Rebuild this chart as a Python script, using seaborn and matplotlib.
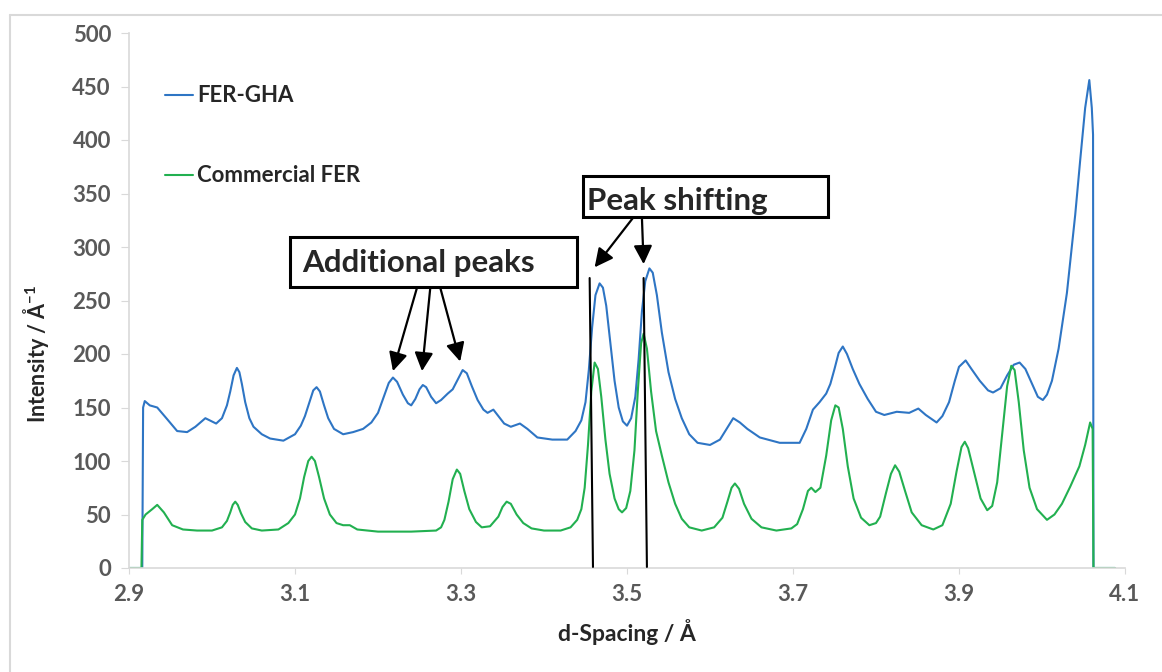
import numpy as np
import pandas as pd
import matplotlib
matplotlib.use('Agg')
import matplotlib.pyplot as plt
import seaborn as sns
from matplotlib.lines import Line2D
from matplotlib.patches import Rectangle

# values
gha_x = [2.900, 2.916, 2.917, 2.919, 2.925, 2.934, 2.945, 2.958, 2.970, 2.980,
         2.992, 3.005, 3.012, 3.018, 3.022, 3.026, 3.030, 3.033, 3.036, 3.040,
         3.045, 3.050, 3.060, 3.070, 3.086, 3.100, 3.107, 3.112, 3.117, 3.122,
         3.126, 3.130, 3.135, 3.140, 3.147, 3.158, 3.170, 3.182, 3.192, 3.200,
         3.207, 3.213, 3.218, 3.223, 3.230, 3.236, 3.240, 3.245, 3.250, 3.254,
         3.258, 3.264, 3.270, 3.276, 3.284, 3.290, 3.296, 3.302, 3.307, 3.313,
         3.320, 3.327, 3.332, 3.339, 3.345, 3.352, 3.360, 3.371, 3.380, 3.392,
         3.410, 3.428, 3.438, 3.445, 3.450, 3.454, 3.458, 3.462, 3.467, 3.471,
         3.475, 3.480, 3.485, 3.490, 3.495, 3.500, 3.505, 3.510, 3.514, 3.518,
         3.522, 3.527, 3.531, 3.536, 3.542, 3.550, 3.558, 3.566, 3.575, 3.585,
         3.600, 3.612, 3.620, 3.628, 3.636, 3.645, 3.660, 3.684, 3.708, 3.716,
         3.724, 3.732, 3.740, 3.745, 3.750, 3.755, 3.760, 3.765, 3.772, 3.780,
         3.790, 3.800, 3.810, 3.825, 3.840, 3.851, 3.860, 3.873, 3.880, 3.888,
         3.895, 3.900, 3.908, 3.915, 3.925, 3.935, 3.941, 3.950, 3.958, 3.966,
         3.973, 3.980, 3.988, 3.995, 4.001, 4.006, 4.012, 4.020, 4.030, 4.040,
         4.046, 4.052, 4.057, 4.060, 4.0615, 4.062, 4.088]
gha_y = [0, 0, 150, 156, 152, 150, 140, 128, 127, 132,
         140, 135, 140, 152, 165, 180, 187, 183, 172, 155,
         140, 132, 125, 121, 119, 125, 133, 142, 154, 166,
         169, 165, 152, 140, 130, 125, 127, 130, 136, 145,
         160, 173, 178, 174, 162, 154, 152, 158, 167, 171,
         169, 160, 154, 157, 163, 167, 176, 185, 182, 170,
         157, 148, 145, 148, 142, 135, 132, 135, 130, 122,
         120, 120, 128, 138, 155, 185, 225, 255, 266, 262,
         245, 210, 175, 150, 137, 133, 140, 160, 195, 240,
         268, 280, 276, 255, 220, 183, 158, 140, 125, 117,
         115, 120, 130, 140, 136, 130, 122, 117, 117, 130,
         148, 155, 163, 172, 186, 201, 207, 200, 186, 172,
         158, 146, 143, 146, 145, 149, 143, 136, 142, 155,
         175, 188, 194, 186, 175, 166, 164, 168, 180, 190,
         192, 186, 172, 160, 157, 162, 175, 205, 257, 330,
         381, 430, 456, 430, 405, 0, 0]

com_x = [2.900, 2.915, 2.916, 2.920, 2.928, 2.934, 2.942, 2.952, 2.965, 2.982,
         3.000, 3.012, 3.018, 3.022, 3.025, 3.028, 3.031, 3.035, 3.040, 3.048,
         3.060, 3.080, 3.092, 3.100, 3.106, 3.111, 3.116, 3.120, 3.124, 3.129,
         3.135, 3.142, 3.150, 3.158, 3.166, 3.175, 3.200, 3.240, 3.270, 3.276,
         3.280, 3.285, 3.290, 3.295, 3.299, 3.304, 3.310, 3.318, 3.325, 3.335,
         3.345, 3.350, 3.355, 3.360, 3.367, 3.375, 3.385, 3.400, 3.420, 3.432,
         3.440, 3.445, 3.449, 3.453, 3.457, 3.461, 3.465, 3.469, 3.474, 3.479,
         3.485, 3.490, 3.494, 3.499, 3.504, 3.509, 3.513, 3.517, 3.520, 3.524,
         3.529, 3.535, 3.542, 3.550, 3.558, 3.566, 3.575, 3.590, 3.605, 3.615,
         3.621, 3.626, 3.630, 3.635, 3.641, 3.650, 3.662, 3.680, 3.698, 3.705,
         3.712, 3.718, 3.722, 3.727, 3.733, 3.740, 3.746, 3.751, 3.755, 3.760,
         3.766, 3.773, 3.782, 3.792, 3.800, 3.805, 3.812, 3.818, 3.823, 3.828,
         3.835, 3.843, 3.855, 3.869, 3.880, 3.890, 3.897, 3.903, 3.907, 3.911,
         3.918, 3.926, 3.934, 3.940, 3.946, 3.952, 3.958, 3.963, 3.967, 3.972,
         3.978, 3.985, 3.994, 4.006, 4.015, 4.024, 4.034, 4.045, 4.052, 4.058,
         4.061, 4.062, 4.088]
com_y = [0, 0, 45, 50, 55, 59, 52, 40, 36, 35,
         35, 38, 44, 52, 59, 62, 59, 51, 43, 37,
         35, 36, 42, 50, 65, 85, 100, 104, 100, 85,
         65, 50, 42, 40, 40, 36, 34, 34, 35, 38,
         45, 62, 83, 92, 88, 72, 55, 43, 38, 39,
         48, 57, 62, 60, 50, 42, 37, 35, 35, 38,
         45, 55, 75, 115, 165, 192, 186, 160, 120, 88,
         65, 55, 52, 56, 72, 110, 165, 210, 219, 205,
         165, 128, 105, 80, 60, 46, 38, 35, 38, 47,
         62, 75, 79, 74, 60, 46, 38, 35, 37, 41,
         55, 72, 75, 71, 75, 105, 138, 152, 150, 130,
         95, 65, 47, 40, 42, 48, 70, 88, 96, 90,
         72, 52, 40, 36, 40, 60, 90, 113, 118, 112,
         90, 65, 54, 58, 80, 125, 170, 189, 185, 155,
         110, 75, 55, 45, 50, 60, 76, 95, 115, 136,
         130, 0, 0]

series_names = ['FER-GHA', 'Commercial FER']
colors = ['#2e75c4', '#22b050']

df = pd.concat([
    pd.DataFrame({'d': gha_x, 'I': gha_y, 'sample': series_names[0]}),
    pd.DataFrame({'d': com_x, 'I': com_y, 'sample': series_names[1]}),
], ignore_index=True)

sns.set_style('white')
plt.rcParams['font.family'] = ['Lato', 'DejaVu Sans']
plt.rcParams['mathtext.default'] = 'regular'

fig = plt.figure(figsize=(11.62, 6.72), dpi=100)
ax = fig.add_axes([129 / 1162, 104 / 672, 996 / 1162, 535 / 672])

sns.lineplot(data=df, x='d', y='I', hue='sample', hue_order=series_names,
             palette=colors, estimator=None, sort=False, linewidth=1.5,
             legend=False, ax=ax)

ax.set_xlim(2.9, 4.1)
ax.set_ylim(0, 500)
ax.set_xticks(np.arange(2.9, 4.11, 0.2))
ax.set_xticklabels(['2.9', '3.1', '3.3', '3.5', '3.7', '3.9', '4.1'])
ax.set_yticks(range(0, 501, 50))

grey = '#d9d9d9'
for s in ['top', 'right']:
    ax.spines[s].set_visible(False)
for s in ['left', 'bottom']:
    ax.spines[s].set_color(grey)
    ax.spines[s].set_linewidth(1.2)
ax.tick_params(axis='y', length=6, color=grey, pad=7, labelsize=16, labelcolor='#595959', left=True)
ax.tick_params(axis='x', length=4.5, color=grey, pad=7, labelsize=16, labelcolor='#595959', bottom=True)
for lbl in ax.get_xticklabels() + ax.get_yticklabels():
    lbl.set_fontweight('bold')

ax.set_xlabel('d-Spacing / Å', fontsize=16.5, fontweight='bold', labelpad=10)
ax.set_ylabel('Intensity / Å$^{-1}$', fontsize=15.5, fontweight='bold')
ax.yaxis.set_label_coords(-0.078, 0.40)

handles = [Line2D([], [], color=c, lw=1.5) for c in colors]
ax.legend(handles, series_names, loc='upper left', bbox_to_anchor=(0.036, 0.902),
          frameon=False, handlelength=1.25, handletextpad=0.2, labelspacing=2.65,
          borderpad=0, borderaxespad=0, prop={'size': 16, 'weight': 'bold'})

# annotation boxes
ax.add_patch(Rectangle((3.094, 262.6), 0.3458, 46.7, fc='white', ec='black', lw=2.2, zorder=5))
ax.text(3.1084, 276.6, 'Additional peaks', fontsize=22.5, fontweight='bold',
        ha='left', va='baseline', zorder=6)
ax.add_patch(Rectangle((3.447, 328.0), 0.2952, 38.4, fc='white', ec='black', lw=2.2, zorder=5))
ax.text(3.4518, 334.6, 'Peak shifting', fontsize=22.5, fontweight='bold',
        ha='left', va='baseline', zorder=6)

arr = dict(arrowstyle='-|>', color='black', lw=1.6, mutation_scale=28, shrinkA=0, shrinkB=0)
for start, tip in [((3.247, 262), (3.218, 184)),
                   ((3.263, 262), (3.253, 184)),
                   ((3.275, 262), (3.299, 193)),
                   ((3.507, 327), (3.461, 281)),
                   ((3.518, 327), (3.520, 284))]:
    ax.annotate('', xy=tip, xytext=start, arrowprops=arr)

seg = dict(arrowstyle='-', color='black', lw=1.5, shrinkA=0, shrinkB=0)
ax.annotate('', xy=(3.459, 1), xytext=(3.455, 271), arrowprops=seg)
ax.annotate('', xy=(3.524, 1), xytext=(3.520, 271), arrowprops=seg)

# thin frame of the original chart area
fig.add_artist(Line2D([10 / 1162, 10 / 1162], [0, 1 - 15 / 672], transform=fig.transFigure, color=grey, lw=1.5))
fig.add_artist(Line2D([10 / 1162, 1], [1 - 15 / 672, 1 - 15 / 672], transform=fig.transFigure, color=grey, lw=1.5))

fig.savefig('out.png', dpi=100)
